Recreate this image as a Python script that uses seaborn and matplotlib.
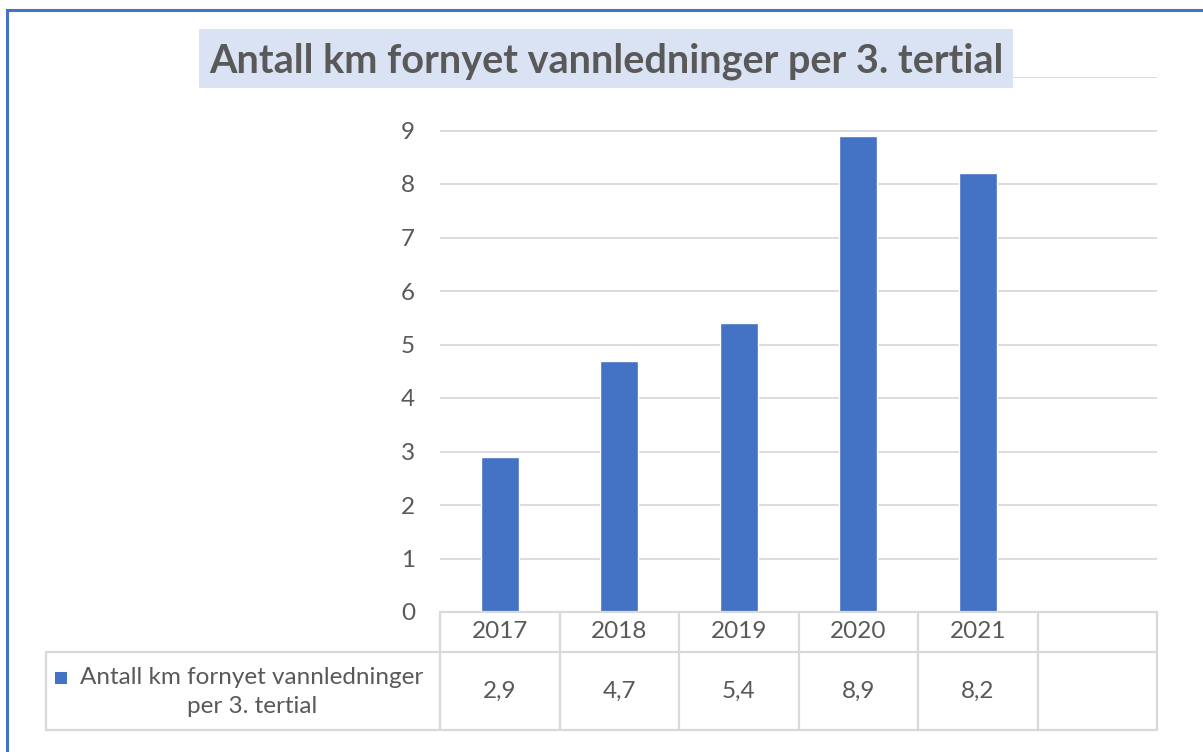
import matplotlib
matplotlib.use("Agg")
import matplotlib.pyplot as plt
from matplotlib.patches import Rectangle
from matplotlib.lines import Line2D
import seaborn as sns

# Data
years = ["2017", "2018", "2019", "2020", "2021"]
km_renewed = [2.9, 4.7, 5.4, 8.9, 8.2]
value_labels = ["2,9", "4,7", "5,4", "8,9", "8,2"]
series_name = "Antall km fornyet vannledninger\nper 3. tertial"
title = "Antall km fornyet vannledninger per 3. tertial"

BAR = "#4472C4"
TXT = "#595959"
GRID = "#D9D9D9"
TITLE_BG = "#DAE3F3"
FS = 17.5

sns.set_theme(style="white")
plt.rcParams["font.family"] = ["Lato", "DejaVu Sans"]

W, H = 1203, 752
fig = plt.figure(figsize=(W / 100, H / 100), dpi=100)


def fx(px):
    return px / W


def fy(py):
    return 1 - py / H


# plot area
ax_l, ax_r, ax_t, ax_b = 440, 1157, 77, 612
ax = fig.add_axes([fx(ax_l), fy(ax_b), fx(ax_r - ax_l), (ax_b - ax_t) / H])

sns.barplot(x=years, y=km_renewed, color=BAR, width=0.32, saturation=1,
            ax=ax, zorder=3)
ax.set_xlim(-0.5, 5.5)
ax.set_ylim(0, 10)
ax.set_yticks(range(0, 11))
ax.set_yticklabels([str(i) for i in range(0, 10)] + [""])
ax.tick_params(axis="y", length=0, pad=18, labelsize=FS, labelcolor=TXT)
ax.set_xticks([])
ax.set_xlabel("")
ax.set_ylabel("")
ax.grid(axis="y", color=GRID, linewidth=1.3, zorder=0)
ax.grid(axis="x", visible=False)
for s in ax.spines.values():
    s.set_visible(False)

# data table below the plot area
tr = ax.get_xaxis_transform()
row1 = -(652 - ax_b) / (ax_b - ax_t)
row2 = -(730 - ax_b) / (ax_b - ax_t)
left_edge = -0.5 - (ax_l - 44) / 120
lw = 1.6
ncols = 6
# horizontal rules
ax.add_line(Line2D([-0.5, 5.5], [0, 0], transform=tr, color=GRID, lw=lw, clip_on=False, zorder=4))
ax.add_line(Line2D([left_edge, 5.5], [row1, row1], transform=tr, color=GRID, lw=lw, clip_on=False))
ax.add_line(Line2D([left_edge, 5.5], [row2, row2], transform=tr, color=GRID, lw=lw, clip_on=False))
# vertical rules
for i in range(ncols + 1):
    xb = -0.5 + i
    ax.add_line(Line2D([xb, xb], [0, row2], transform=tr, color=GRID, lw=lw, clip_on=False))
ax.add_line(Line2D([left_edge, left_edge], [row1, row2], transform=tr, color=GRID, lw=lw, clip_on=False))

for i, (yr, lab) in enumerate(zip(years, value_labels)):
    ax.text(i, row1 / 2, yr, transform=tr, ha="center", va="center",
            fontsize=FS, color=TXT, clip_on=False)
    ax.text(i, (row1 + row2) / 2, lab, transform=tr, ha="center", va="center",
            fontsize=FS, color=TXT, clip_on=False)

# legend key and series name in the table
fig.add_artist(Rectangle((fx(55), fy(684)), fx(12), 12 / H, transform=fig.transFigure,
                         facecolor=BAR, edgecolor="none"))
fig.text(fx(252), fy(692), series_name, ha="center", va="center", multialignment="center",
         fontsize=FS, color=TXT, linespacing=1.45)

# title with shaded box
fig.add_artist(Rectangle((fx(199), fy(88)), fx(1013 - 199), (88 - 29) / H,
                         transform=fig.transFigure, facecolor=TITLE_BG,
                         edgecolor="none", zorder=5))
fig.text(fx(606), fy(73), title, ha="center", va="baseline", fontsize=28.5,
         fontweight="bold", color=TXT, zorder=6)

# chart frame
fig.add_artist(Rectangle((fx(7), fy(H + 20)), fx(W), (H + 10) / H,
                         transform=fig.transFigure, facecolor="none",
                         edgecolor=BAR, linewidth=2.2, zorder=7, clip_on=False))

fig.savefig("out.png", dpi=100, facecolor="white")
